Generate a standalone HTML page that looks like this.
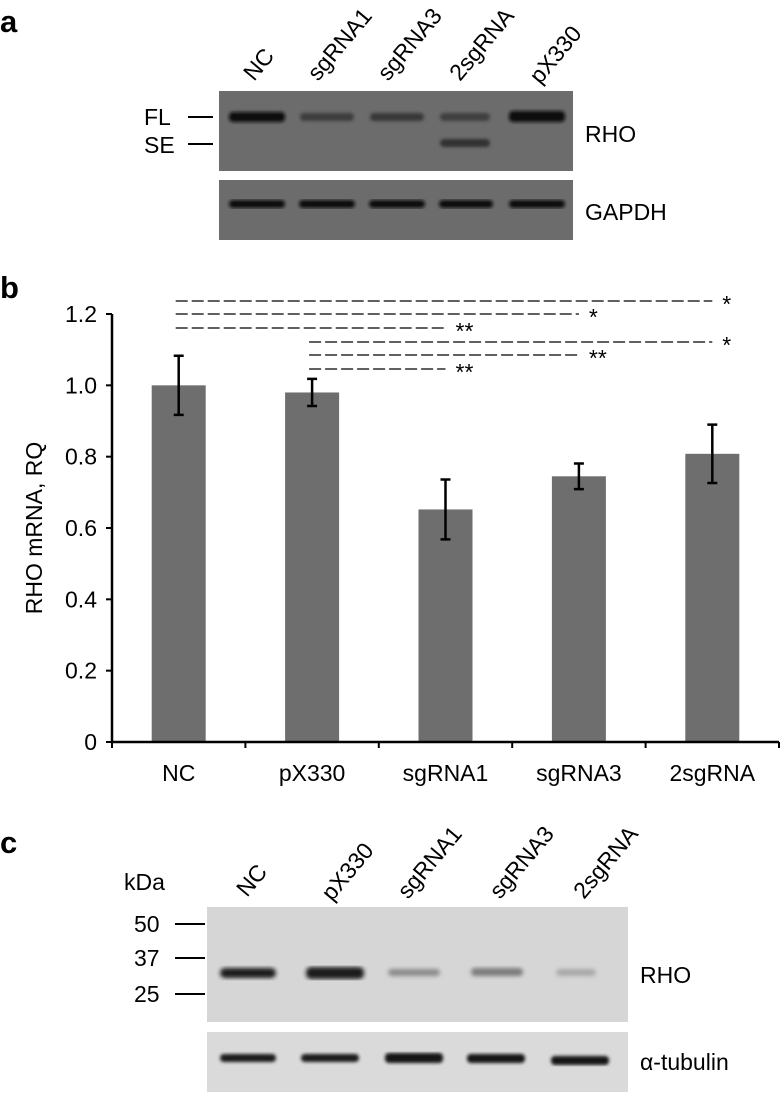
<!DOCTYPE html>
<html><head><meta charset="utf-8"><style>
html,body{margin:0;padding:0;background:#fff;}
svg{display:block;font-family:"Liberation Sans",sans-serif;}
</style></head><body>
<svg width="780" height="1095" viewBox="0 0 780 1095">
<defs>
<filter id="blur1"><feGaussianBlur stdDeviation="2.2"/></filter>
<filter id="blur2"><feGaussianBlur stdDeviation="1.6"/></filter>
</defs>
<!-- Panel a -->
<text x="0" y="32" font-size="31" font-weight="bold">a</text>
<g font-size="23">
<text transform="translate(254,82) rotate(-50)">NC</text>
<text transform="translate(318,82) rotate(-50)">sgRNA1</text>
<text transform="translate(388,82) rotate(-50)">sgRNA3</text>
<text transform="translate(460,82) rotate(-50)">2sgRNA</text>
<text transform="translate(540,85) rotate(-50)">pX330</text>
</g>
<rect x="219" y="91" width="354" height="80" fill="#6c6c6c"/>
<g filter="url(#blur2)">
<rect x="229" y="112" width="56" height="10" rx="4" fill="#111"/>
<rect x="300" y="113" width="54" height="8" rx="4" fill="#3c3c3c"/>
<rect x="370" y="113" width="54" height="8" rx="4" fill="#383838"/>
<rect x="440" y="113" width="50" height="8" rx="4" fill="#404040"/>
<rect x="440" y="139" width="50" height="8" rx="4" fill="#333"/>
<rect x="509" y="111" width="56" height="11" rx="4" fill="#0e0e0e"/>
</g>
<rect x="219" y="180" width="354" height="60" fill="#6c6c6c"/>
<g filter="url(#blur2)">
<rect x="229" y="200" width="56" height="8" rx="4" fill="#111"/>
<rect x="299" y="200" width="56" height="8" rx="4" fill="#111"/>
<rect x="369" y="200" width="56" height="8" rx="4" fill="#111"/>
<rect x="439" y="200" width="54" height="8" rx="4" fill="#111"/>
<rect x="509" y="200" width="56" height="8" rx="4" fill="#111"/>
</g>
<g font-size="23">
<text x="144" y="125">FL</text><line x1="188" y1="117" x2="213" y2="117" stroke="#000" stroke-width="2"/>
<text x="144" y="153">SE</text><line x1="188" y1="144" x2="213" y2="144" stroke="#000" stroke-width="2"/>
<text x="585" y="142">RHO</text>
<text x="585" y="220">GAPDH</text>
</g>
<!-- Panel b -->
<text x="0" y="298" font-size="31" font-weight="bold">b</text>
<g id="chart"></g>
<!-- Panel c -->
<text x="0" y="853" font-size="31" font-weight="bold">c</text>
<g font-size="23">
<text x="124" y="890">kDa</text>
<text transform="translate(247,898) rotate(-50)">NC</text>
<text transform="translate(332,902) rotate(-50)">pX330</text>
<text transform="translate(408,900) rotate(-50)">sgRNA1</text>
<text transform="translate(500,900) rotate(-50)">sgRNA3</text>
<text transform="translate(584,900) rotate(-50)">2sgRNA</text>
</g>
<rect x="207" y="907" width="421" height="115" fill="#d6d6d6"/>
<g filter="url(#blur1)">
<rect x="220" y="968" width="56" height="10" rx="5" fill="#1c1c1c"/>
<rect x="306" y="967" width="58" height="12" rx="5" fill="#1a1a1a"/>
<rect x="388" y="969" width="52" height="7" rx="4" fill="#8a8a8a"/>
<rect x="471" y="968" width="52" height="8" rx="4" fill="#7a7a7a"/>
<rect x="556" y="969" width="40" height="7" rx="4" fill="#a8a8a8"/>
</g>
<rect x="207" y="1032" width="421" height="60" fill="#dadada"/>
<g filter="url(#blur2)">
<rect x="220" y="1054" width="56" height="8" rx="4" fill="#1e1e1e"/>
<rect x="301" y="1054" width="58" height="8" rx="4" fill="#1a1a1a"/>
<rect x="385" y="1053" width="58" height="10" rx="4" fill="#141414"/>
<rect x="467" y="1054" width="58" height="9" rx="4" fill="#161616"/>
<rect x="551" y="1056" width="58" height="9" rx="4" fill="#181818"/>
</g>
<g font-size="23">
<text x="134" y="932">50</text><line x1="175" y1="924" x2="205" y2="924" stroke="#000" stroke-width="2"/>
<text x="134" y="966">37</text><line x1="175" y1="958" x2="205" y2="958" stroke="#000" stroke-width="2"/>
<text x="134" y="1002">25</text><line x1="175" y1="994" x2="205" y2="994" stroke="#000" stroke-width="2"/>
<text x="640" y="983">RHO</text>
<text x="640" y="1070">α-tubulin</text>
</g>
</svg>
<script>
const categories = ["NC","pX330","sgRNA1","sgRNA3","2sgRNA"];
const values = [1.0, 0.98, 0.652, 0.745, 0.808];
const errors = [0.083, 0.038, 0.084, 0.036, 0.082];
const yTicks = [0, 0.2, 0.4, 0.6, 0.8, 1.0, 1.2];
const yTickLabels = ["0","0.2","0.4","0.6","0.8","1.0","1.2"];
const sigFrom = [0, 0, 0, 1, 1, 1];
const sigTo = [4, 3, 2, 4, 3, 2];
const sigLabels = ["*","*","**","*","**","**"];

const NS = "http://www.w3.org/2000/svg";
const g = document.getElementById("chart");
const X0 = 112, X1 = 779, Y0 = 742, Y1 = 314, YMAX = 1.2;
const band = (X1 - X0) / categories.length;
const yS = v => Y0 - (v / YMAX) * (Y0 - Y1);
const xC = i => X0 + band * (i + 0.5);
function mk(tag, attrs) { const e = document.createElementNS(NS, tag); for (const k in attrs) e.setAttribute(k, attrs[k]); g.appendChild(e); return e; }

categories.forEach((c, i) => {
  const bw = 54;
  const b = mk("rect", {x: xC(i) - bw/2, y: yS(values[i]), width: bw, height: Y0 - yS(values[i]), fill: "#6e6e6e"});
  
  
  const hi = yS(values[i] + errors[i]), lo = yS(values[i] - errors[i]);
  const eb = mk("path", {d: `M${xC(i)-5},${hi}H${xC(i)+5}M${xC(i)},${hi}V${lo}M${xC(i)-5},${lo}H${xC(i)+5}`, stroke: "#000", "stroke-width": 2.5, fill: "none"});
  
  
  const t = mk("text", {x: xC(i), y: 781, "text-anchor": "middle", "font-size": 23});
  t.textContent = c;
  
  
});
for (let i = 0; i <= categories.length; i++) {
  const tk = mk("line", {x1: X0 + band*i, y1: Y0, x2: X0 + band*i, y2: Y0 + 6, stroke: "#000", "stroke-width": 2});
  
  
}
yTicks.forEach((v, i) => {
  const tk = mk("line", {x1: X0 - 6, y1: yS(v), x2: X0, y2: yS(v), stroke: "#000", "stroke-width": 2});
  
  
  const t = mk("text", {x: 97, y: yS(v) + 8, "text-anchor": "end", "font-size": 23});
  t.textContent = yTickLabels[i];
  
  
});
const ax = mk("path", {d: `M${X0},${Y1}V${Y0}H${X1}`, stroke: "#000", "stroke-width": 2.5, fill: "none"});


const yt = mk("text", {transform: `translate(42,${(Y0+Y1)/2}) rotate(-90)`, "text-anchor": "middle", "font-size": 23});
yt.textContent = "RHO mRNA, RQ";


const sigY = [301, 314, 328, 342, 355, 369];
sigFrom.forEach((f, k) => {
  const xs = xC(f) - 3, xe = xC(sigTo[k]);
  const l = mk("line", {x1: xs, y1: sigY[k], x2: xe, y2: sigY[k], stroke: "#000", "stroke-width": 1.3, "stroke-dasharray": "12,4"});
  
  
  const t = mk("text", {x: xe + 10, y: sigY[k] + 11, "font-size": 23});
  t.textContent = sigLabels[k];
  
  
});
</script>
</body></html>
